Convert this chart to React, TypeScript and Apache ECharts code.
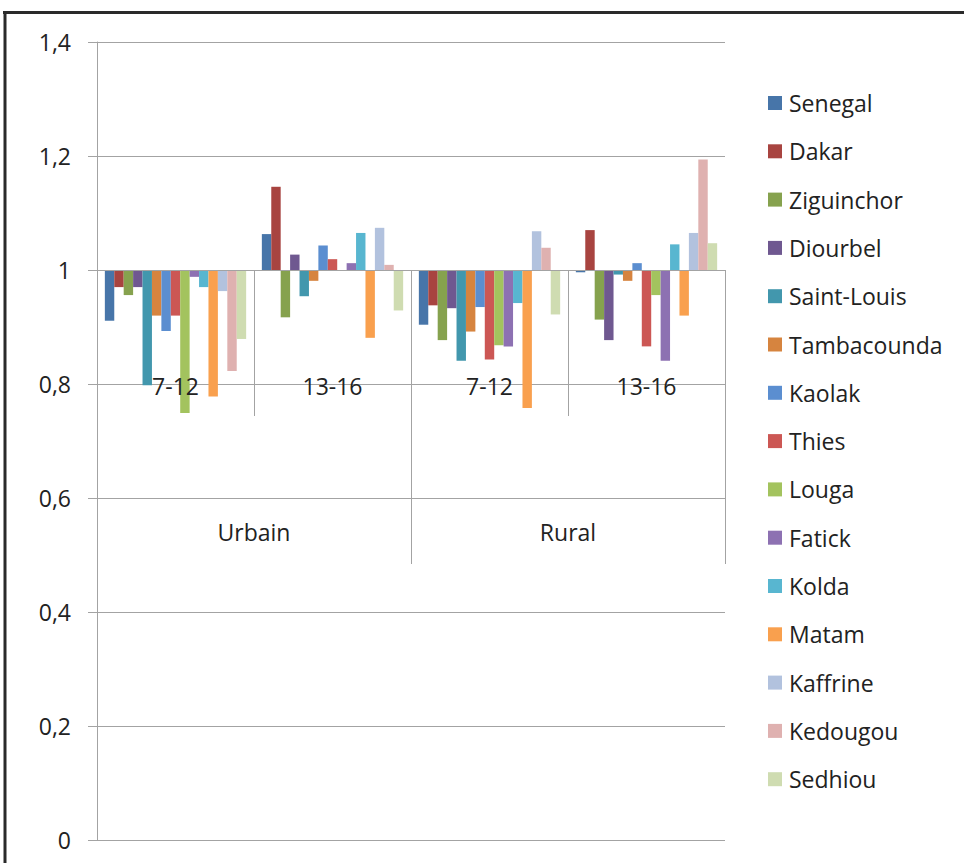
import React, { useEffect, useRef } from "react";
import * as echarts from "echarts";

const groups = ["7-12", "13-16", "7-12", "13-16"];
const zones = ["Urbain", "Rural"];
const yTicks = [0, 0.2, 0.4, 0.6, 0.8, 1, 1.2, 1.4];

const regions = [
  "Senegal", "Dakar", "Ziguinchor", "Diourbel", "Saint-Louis", "Tambacounda", "Kaolak",
  "Thies", "Louga", "Fatick", "Kolda", "Matam", "Kaffrine", "Kedougou", "Sedhiou",
];

const colors = [
  "#4775A9", "#A84440", "#86A24E", "#6F5890", "#4297AD", "#D6843F", "#5B8ED0",
  "#CC5754", "#A3C35E", "#8D71B2", "#58B6D0", "#F9A04E", "#B2C2DE", "#DFB1B0", "#CFDCB1",
];

// values per region: [Urbain 7-12, Urbain 13-16, Rural 7-12, Rural 13-16]
const senegal = [0.911, 1.063, 0.904, 0.996];
const dakar = [0.970, 1.146, 0.938, 1.070];
const ziguinchor = [0.956, 0.917, 0.877, 0.913];
const diourbel = [0.970, 1.027, 0.933, 0.877];
const saintLouis = [0.798, 0.954, 0.841, 0.992];
const tambacounda = [0.920, 0.981, 0.892, 0.981];
const kaolak = [0.893, 1.043, 0.935, 1.012];
const thies = [0.920, 1.019, 0.843, 0.866];
const louga = [0.749, 1.0, 0.868, 0.956];
const fatick = [0.988, 1.012, 0.866, 0.841];
const kolda = [0.970, 1.065, 0.942, 1.045];
const matam = [0.778, 0.881, 0.758, 0.920];
const kaffrine = [0.963, 1.074, 1.068, 1.065];
const kedougou = [0.823, 1.009, 1.039, 1.194];
const sedhiou = [0.879, 0.929, 0.922, 1.047];

const seriesValues = [
  senegal, dakar, ziguinchor, diourbel, saintLouis, tambacounda, kaolak,
  thies, louga, fatick, kolda, matam, kaffrine, kedougou, sedhiou,
];

const BASE = 1;
const FONT = "'Open Sans', sans-serif";
const TEXT = "#222222";
const GRID = "#a3a3a3";

export default function App() {
  const ref = useRef<HTMLDivElement>(null);

  useEffect(() => {
    if (!ref.current) return;
    const chart = echarts.init(ref.current, undefined, { renderer: "svg" });
    const fmt = (v: number) => String(Math.round((v + BASE) * 10) / 10).replace(".", ",");
    const gridTop = 42;
    const gridBottom = 23;
    const plotH = 863 - gridTop - gridBottom;
    const yMin = yTicks[0] - BASE;
    const yMax = yTicks[yTicks.length - 1] - BASE;
    // axis sits at the base value (1): shift it up from the grid bottom
    const baseOffset = -((0 - yMin) / (yMax - yMin)) * plotH;
    const option = {
      animation: false,
      color: colors,
      textStyle: { fontFamily: FONT },
      grid: { left: 97, right: 239, top: gridTop, bottom: gridBottom, containLabel: false, outerBoundsMode: "none" },
      legend: {
        orient: "vertical",
        left: 768,
        top: 91,
        padding: 0,
        itemWidth: 14,
        itemHeight: 14,
        itemGap: 24.3,
        icon: "rect",
        data: regions,
        textStyle: { fontSize: 23, lineHeight: 24, color: TEXT, fontFamily: FONT, padding: [0, 0, 0, 2] },
      },
      xAxis: [
        {
          type: "category",
          data: groups,
          position: "bottom",
          offset: baseOffset,
          z: 10,
          axisLine: { show: true, onZero: false, lineStyle: { color: GRID, width: 1 } },
          axisTick: { show: true, length: 146, lineStyle: { color: GRID } },
          axisLabel: { margin: 104, fontSize: 23, color: TEXT, fontFamily: FONT, interval: 0 },
          splitLine: { show: false },
        },
        {
          type: "category",
          data: zones,
          position: "bottom",
          offset: baseOffset,
          z: 10,
          axisLine: { show: true, onZero: false, lineStyle: { color: GRID, width: 1 } },
          axisTick: { show: true, length: 294, lineStyle: { color: GRID } },
          axisLabel: { margin: 250, fontSize: 23, color: TEXT, fontFamily: FONT, interval: 0 },
          splitLine: { show: false },
        },
      ],
      yAxis: {
        type: "value",
        min: yMin,
        max: yMax,
        interval: 0.2,
        axisLine: { show: true, onZero: false, lineStyle: { color: GRID } },
        axisTick: { show: true, length: 9, lineStyle: { color: GRID } },
        axisLabel: { formatter: fmt, margin: 26, fontSize: 23, color: TEXT, fontFamily: FONT },
        splitLine: { show: true, lineStyle: { color: GRID, width: 1 } },
      },
      series: regions.map((name, i) => ({
        name,
        type: "bar",
        xAxisIndex: 0,
        barGap: "0%",
        barCategoryGap: "10%",
        data: seriesValues[i].map((v) => +(v - BASE).toFixed(4)),
        itemStyle: { color: colors[i] },
      })),
      graphic: [
        { type: "line", shape: { x1: 3, y1: 12.5, x2: 964, y2: 12.5 }, style: { stroke: "#2a2a2a", lineWidth: 3 }, z: 100 },
        { type: "line", shape: { x1: 5, y1: 11, x2: 5, y2: 863 }, style: { stroke: "#2a2a2a", lineWidth: 3 }, z: 100 },
      ],
    };
    chart.setOption(option as any);
    return () => chart.dispose();
  }, []);

  return (
    <div
      ref={ref}
      style={{ position: "fixed", left: 0, top: 0, width: 964, height: 863, background: "#ffffff" }}
    />
  );
}
